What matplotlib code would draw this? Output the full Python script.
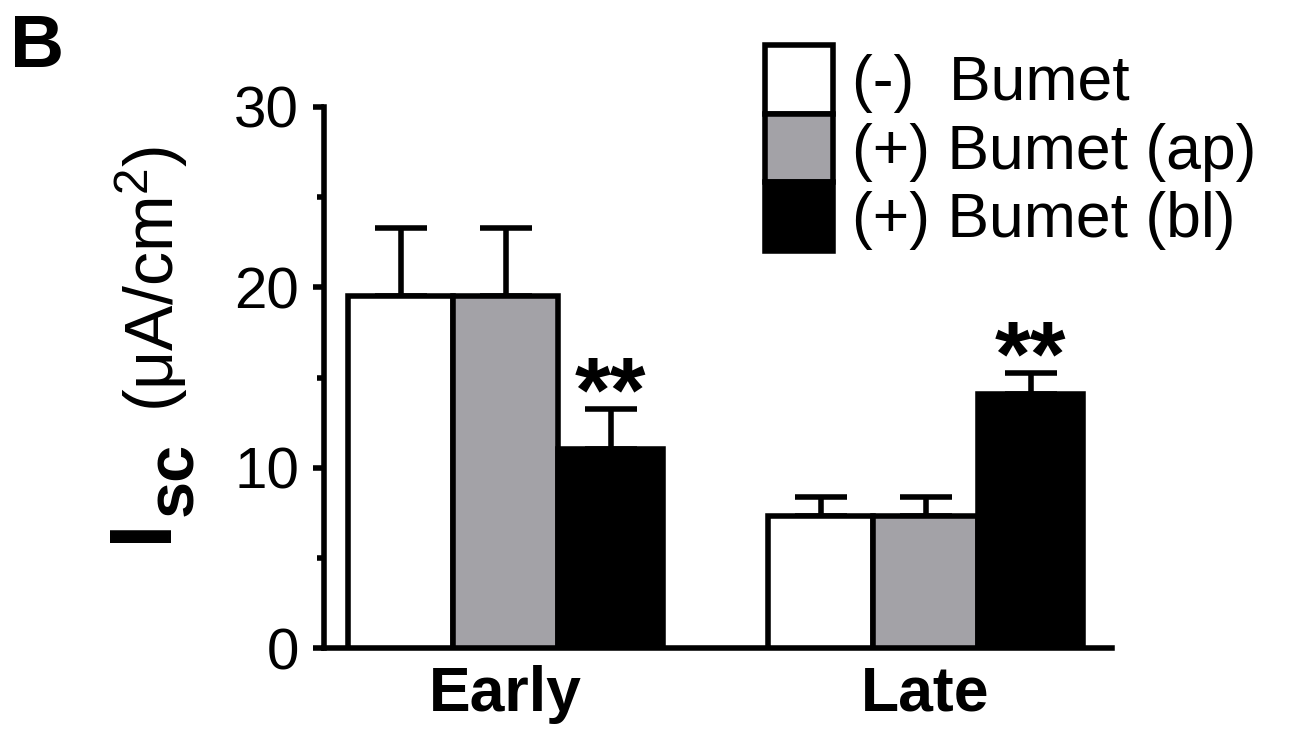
import matplotlib
matplotlib.use("Agg")
import matplotlib.pyplot as plt
from matplotlib.patches import Patch
import numpy as np

plt.rcParams['font.family'] = ['Liberation Sans', 'DejaVu Sans']
plt.rcParams['mathtext.fontset'] = 'custom'
plt.rcParams['mathtext.rm'] = 'Liberation Sans'
plt.rcParams['mathtext.it'] = 'Liberation Sans:italic'
plt.rcParams['mathtext.bf'] = 'Liberation Sans:bold'
plt.rcParams['mathtext.default'] = 'regular'

# ---- data ----
groups = ["Early", "Late"]
series = ["(-)  Bumet", "(+) Bumet (ap)", "(+) Bumet (bl)"]
means_early = [19.5, 19.5, 11.05]
means_late = [7.3, 7.3, 14.1]
err_early = [3.8, 3.8, 2.2]
err_late = [1.05, 1.05, 1.15]
significant_early = [False, False, True]
significant_late = [False, False, True]
yticks = [0, 10, 20, 30]
minor_yticks = [5, 15, 25]

colors = ["white", "#a3a2a7", "black"]
W, H = 1295, 731
fig = plt.figure(figsize=(W / 100, H / 100), dpi=100)
ax = fig.add_axes([324 / W, 1 - 648 / H, (1112 - 324) / W, (648 - 107) / H])

lw = 4.0
group_offsets = [0, 4]
means = [means_early, means_late]
errs = [err_early, err_late]
sigs = [significant_early, significant_late]

for gi, g0 in enumerate(group_offsets):
    xs = g0 + np.arange(len(series))
    for si in range(len(series)):
        ax.bar(xs[si], means[gi][si], width=1.0, color=colors[si],
               edgecolor="black", linewidth=lw, zorder=3)
    ax.errorbar(xs, means[gi], yerr=[np.zeros(len(series)), errs[gi]],
                fmt="none", ecolor="black", elinewidth=lw, capsize=18.5,
                capthick=lw, zorder=2)
    for si in range(len(series)):
        if sigs[gi][si]:
            ax.text(xs[si], means[gi][si] + errs[gi][si] - 0.7, "**",
                    ha="center", va="baseline", fontsize=66,
                    fontweight="bold", zorder=4)

ax.set_xlim(-0.729, 6.776)
ax.set_ylim(0, 30)
ax.set_yticks(yticks)
ax.set_yticks(minor_yticks, minor=True)
ax.set_yticklabels([str(t) for t in yticks], fontsize=42)
ax.set_xticks([1, 5])
ax.set_xticklabels(groups, fontsize=45, fontweight="bold")
ax.tick_params(axis="x", length=0, pad=12)
ax.tick_params(axis="y", which="major", length=8, width=lw, pad=10,
               direction="out")
ax.tick_params(axis="y", which="minor", length=5, width=lw, direction="out")
for s in ["top", "right"]:
    ax.spines[s].set_visible(False)
for s in ["left", "bottom"]:
    ax.spines[s].set_linewidth(lw)
    ax.spines[s].set_capstyle("projecting")

def fx(px):
    return px / W

def fy(py):
    return 1 - py / H

# y label pieces
fig.text(fx(166), fy(542), "I", rotation=90, rotation_mode="anchor",
         ha="left", va="baseline", fontsize=64, fontweight="bold")
fig.text(fx(192), fy(516), "sc", rotation=90, rotation_mode="anchor",
         ha="left", va="baseline", fontsize=48, fontweight="bold")
fig.text(fx(174), fy(412), "(μA/cm$^2$)", rotation=90, rotation_mode="anchor",
         ha="left", va="baseline", fontsize=49)

# panel letter
fig.text(fx(10), fy(67), "B", ha="left", va="baseline", fontsize=54,
         fontweight="bold")

# legend
handles = [Patch(facecolor=c, edgecolor="black", linewidth=lw) for c in colors]
fs = 45
fpx = fs * 100 / 72
leg = ax.legend(handles, series, loc="upper left",
                bbox_to_anchor=(fx(765), fy(45)), bbox_transform=fig.transFigure,
                frameon=False, fontsize=fs, borderpad=0, borderaxespad=0,
                labelspacing=0, handlelength=68 / fpx,
                handleheight=82 / fpx, handletextpad=0.3)

fig.savefig("out.png", dpi=100)
